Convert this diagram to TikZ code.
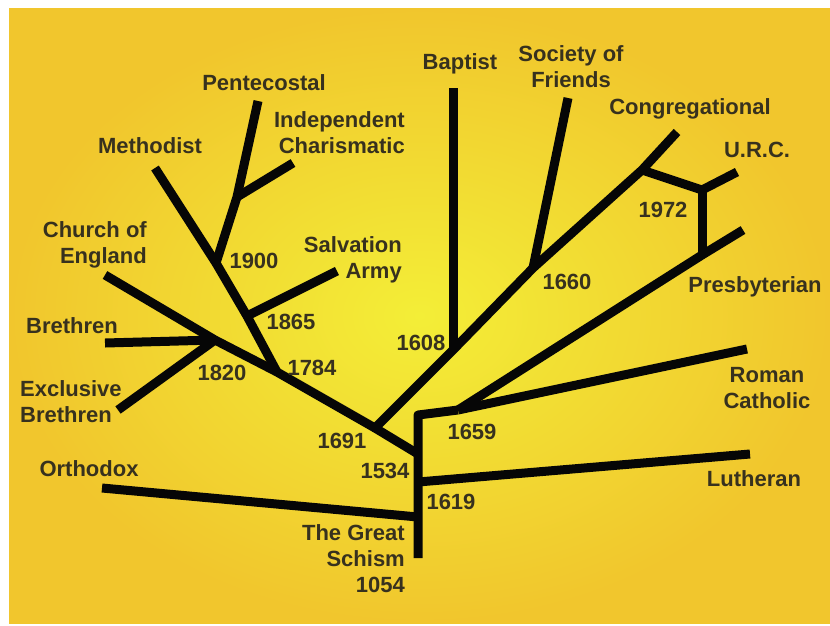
\documentclass[tikz,border=0pt]{standalone}
\usepackage{fontspec}
\setmainfont{Liberation Sans}
\definecolor{bgin}{RGB}{243,238,55}
\definecolor{bgout}{RGB}{241,198,45}
\definecolor{ink}{RGB}{6,6,6}
\definecolor{txt}{RGB}{55,49,30}
\begin{document}
\begin{tikzpicture}[x=1pt,y=-1pt,
  branch/.style={line width=9pt, draw=ink, line join=round},
  lbl/.style={font=\bfseries\fontsize{22}{26}\selectfont, text=txt, inner sep=0pt}]
\useasboundingbox (0,0) rectangle (830,625);
\fill[white] (0,0) rectangle (830,625);
\shade[inner color=bgin, outer color=bgout] (9,8) rectangle (830,623);

% trunk and junctions
\coordinate (root) at (418,558);
\coordinate (gs) at (418,517);
\coordinate (lj) at (418,482);
\coordinate (j1534) at (418,454);
\coordinate (top) at (418,415);
\coordinate (rcj) at (458,410);
\coordinate (orth) at (102,488);
\coordinate (luth) at (750,454);
\coordinate (rc) at (747,349);
\coordinate (presb) at (743,230);
\coordinate (jp) at (702,255);
% protestant upper branch
\coordinate (j1691) at (375,428);
\coordinate (j1608) at (453,350);
\coordinate (bapt) at (453,88);
\coordinate (j1660) at (533,268);
\coordinate (sf) at (568,98);
\coordinate (jurc) at (642,170);
\coordinate (cong) at (677,132);
\coordinate (j1972) at (702,190);
\coordinate (urc) at (737,172);
% left branch
\coordinate (j1784) at (277,372);
\coordinate (j1820) at (215,340);
\coordinate (coe) at (105,275);
\coordinate (breth) at (105,343);
\coordinate (exbr) at (118,410);
\coordinate (j1865) at (247,316);
\coordinate (j1900) at (216,263);
\coordinate (meth) at (155,168);
\coordinate (jic) at (237,197);
\coordinate (pent) at (258,101);
\coordinate (ic) at (293,163);
\coordinate (salv) at (337,271);

% branches
\draw[branch] (root) -- (gs) -- (lj) -- (j1534) -- (top) -- (rcj);
\draw[branch] (gs) -- (orth);
\draw[branch] (lj) -- (luth);
\draw[branch] (rcj) -- (rc);
\draw[branch] (rcj) -- (jp) -- (presb);
\draw[branch] (jp) -- (j1972);
\draw[branch] (j1534) -- (j1691) -- (j1608) -- (j1660) -- (jurc) -- (cong);
\draw[branch] (j1608) -- (bapt);
\draw[branch] (j1660) -- (sf);
\draw[branch] (jurc) -- (j1972) -- (urc);
\draw[branch] (j1691) -- (j1784) -- (j1820) -- (coe);
\draw[branch] (j1820) -- (breth);
\draw[branch] (j1820) -- (exbr);
\draw[branch] (j1784) -- (j1865) -- (j1900) -- (meth);
\draw[branch] (j1865) -- (salv);
\draw[branch] (j1900) -- (jic) -- (pent);
\draw[branch] (jic) -- (ic);

% labels
\node[lbl, anchor=base] (pentl) at (264,90) {Pentecostal};
\node[lbl, align=right, anchor=east] (icl) at (405,133) {Independent\\Charismatic};
\node[lbl, anchor=base] (methl) at (150,153) {Methodist};
\node[lbl, align=right, anchor=east] (coel) at (147,245) {Church of\\England};
\node[lbl, anchor=base] (y1900) at (254,268) {1900};
\node[lbl, align=right, anchor=east] (sal) at (402,260) {Salvation\\Army};
\node[lbl, anchor=base] (y1865) at (291,329) {1865};
\node[lbl, anchor=base] (brl) at (72,333) {Brethren};
\node[lbl, anchor=base] (y1820) at (222,380) {1820};
\node[lbl, anchor=base] (y1784) at (312,375) {1784};
\node[lbl, align=left, anchor=west] (exl) at (20,402) {Exclusive\\Brethren};
\node[lbl, anchor=base] (y1608) at (421,350) {1608};
\node[lbl, anchor=base] (y1691) at (342,448) {1691};
\node[lbl, anchor=base] (y1534) at (385,478) {1534};
\node[lbl, anchor=base] (orl) at (89,476) {Orthodox};
\node[lbl, align=right, anchor=east] (gsl) at (405,559) {The Great\\Schism\\1054};
\node[lbl, anchor=base] (y1619) at (451,509) {1619};
\node[lbl, anchor=base] (y1659) at (472,439) {1659};
\node[lbl, align=center] (rcl) at (767,388) {Roman\\Catholic};
\node[lbl, anchor=base] (lul) at (754,486) {Lutheran};
\node[lbl, anchor=base] (bal) at (460,69) {Baptist};
\node[lbl, align=center] (sfl) at (571,67) {Society of\\Friends};
\node[lbl, anchor=base] (col) at (690,114) {Congregational};
\node[lbl, anchor=base] (urcl) at (757,157) {U.R.C.};
\node[lbl, anchor=base] (y1972) at (663,217) {1972};
\node[lbl, anchor=base] (y1660) at (567,289) {1660};
\node[lbl, anchor=base] (prl) at (755,292) {Presbyterian};
\end{tikzpicture}
\end{document}
